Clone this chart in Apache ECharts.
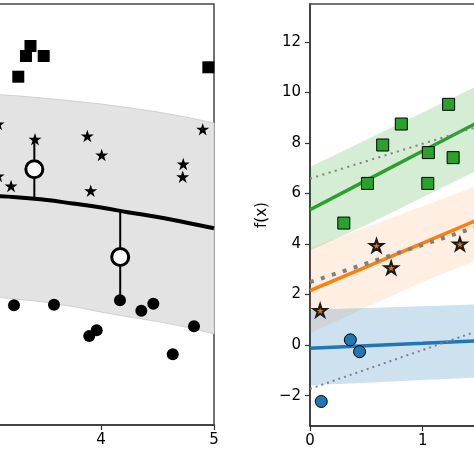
<!DOCTYPE html>
<html>
<head>
<meta charset="utf-8">
<script src="https://cdn.jsdelivr.net/npm/echarts@6/dist/echarts.min.js"></script>
<style>
html,body{margin:0;padding:0;background:#fff;}
#c{width:474px;height:474px;}
</style>
</head>
<body>
<div id="c"></div>
<script>
// ---------- Left panel (y in arbitrary units) ----------
const leftX = [3.0, 3.25, 3.5, 3.75, 4.0, 4.25, 4.5, 4.75, 5.0];
const leftCurve = [229, 227.8, 225.2, 221.5, 217.5, 212.5, 208, 202.5, 196.7];
const leftBandUpper = [331, 329.2, 326.8, 324, 321, 317.2, 313, 308, 302];
const leftBandLower = [128.5, 126, 123, 118.5, 113, 108, 103.5, 98, 91.3];
const leftSquaresX = [3.376, 3.336, 3.493, 3.268, 4.95];
const leftSquaresY = [379, 369, 369, 348.3, 357.7];
const leftStarsX = [3.09, 3.09, 3.416, 3.879, 4.006, 4.90, 4.728, 4.723, 3.204, 3.909];
const leftStarsY = [301, 249, 285.7, 289, 270, 295.7, 261, 248.3, 239, 234.3];
const leftDotsX = [3.23, 3.584, 4.168, 4.357, 4.463, 3.896, 3.962, 4.823, 4.635];
const leftDotsY = [119.7, 120.3, 124.7, 114.3, 121.3, 89, 94.7, 98.7, 70.7];
const leftOpenX = [3.41, 4.17];
const leftOpenY = [255.7, 168];
const leftStemTop = [285.7, 214];
const leftStemBottom = [226.7, 124.7];
const leftTicks = [3, 4, 5];

// ---------- Right panel ----------
const rightX = [0, 0.5, 1.0, 1.5];
const greenMean = [5.36, 6.52, 7.68, 8.84];
const greenUpper = [7.05, 8.13, 9.21, 10.29];
const greenLower = [3.75, 4.75, 5.85, 6.95];
const greenDotted = [6.59, 7.28, 7.97, 8.66];
const orangeMean = [2.16, 3.10, 4.04, 4.98];
const orangeUpper = [3.84, 4.67, 5.50, 6.33];
const orangeLower = [0.47, 1.50, 2.50, 3.40];
const orangeDotted = [2.49, 3.23, 3.97, 4.71];
const blueMean = [-0.12, -0.02, 0.07, 0.17];
const blueUpper = [1.40, 1.47, 1.54, 1.62];
const blueLower = [-1.59, -1.49, -1.38, -1.28];
const blueDotted = [-1.73, -0.96, -0.19, 0.58];
const greenPtsX = [0.30, 0.51, 0.645, 0.81, 1.05, 1.045, 1.23, 1.27];
const greenPtsY = [4.83, 6.40, 7.92, 8.75, 7.62, 6.40, 9.53, 7.42];
const orangePtsX = [0.09, 0.59, 0.72, 1.33];
const orangePtsY = [1.37, 3.94, 3.06, 4.00];
const bluePtsX = [0.10, 0.358, 0.44];
const bluePtsY = [-2.23, 0.21, -0.26];
const rightYTicks = [-2, 0, 2, 4, 6, 8, 10, 12];
const rightXTicks = [0, 1, 2];

const FONT = 'DejaVu Sans';
const STAR = 'path://M100 0 L122.45 69.1 L195.1 69.1 L136.3 111.8 L158.8 180.9 L100 138.2 L41.2 180.9 L63.7 111.8 L4.9 69.1 L77.55 69.1 Z';

function zip(a, b) { return a.map((v, i) => [v, b[i]]); }

function band(ax, xs, lo, hi, fill, stroke, z) {
  return {
    type: 'custom', xAxisIndex: ax, yAxisIndex: ax, silent: true, z: z,
    data: xs.map((x, i) => [x, lo[i], hi[i]]),
    encode: { x: 0, y: [1, 2] },
    renderItem: function (params, api) {
      if (params.dataIndex !== 0) return null;
      const pts = [];
      for (let i = 0; i < xs.length; i++) pts.push(api.coord([xs[i], hi[i]]));
      for (let i = xs.length - 1; i >= 0; i--) pts.push(api.coord([xs[i], lo[i]]));
      return { type: 'polygon', shape: { points: pts },
        style: { fill: fill, stroke: stroke || null, lineWidth: stroke ? 1 : 0 } };
    }
  };
}
function line(ax, xs, ys, color, width, type, z, smooth) {
  return { type: 'line', xAxisIndex: ax, yAxisIndex: ax, data: zip(xs, ys),
    showSymbol: false, symbol: 'none', smooth: !!smooth, silent: true, z: z,
    lineStyle: { color: color, width: width, type: type || 'solid', cap: 'butt' } };
}
function scatter(ax, xs, ys, symbol, size, fill, border, bw, z) {
  return { type: 'scatter', xAxisIndex: ax, yAxisIndex: ax, data: zip(xs, ys),
    symbol: symbol, symbolSize: size, symbolKeepAspect: true, silent: true, z: z,
    itemStyle: { color: fill, borderColor: border, borderWidth: bw, opacity: 1 } };
}

const axisCommon = {
  axisLine: { show: true, onZero: false, lineStyle: { color: '#333', width: 1.5 } },
  axisTick: { show: true, inside: false, length: 5, lineStyle: { color: '#333', width: 1.2 } },
  splitLine: { show: false },
};
const minusFmt = v => String(v).replace('-', '\u2212');

const series = [];
// left panel
series.push(band(0, leftX, leftBandLower, leftBandUpper, '#e3e3e3', '#d0d0d0', 1));
series.push(line(0, leftX, leftCurve, '#000', 4, 'solid', 3, true));
for (let i = 0; i < leftOpenX.length; i++) {
  series.push(line(0, [leftOpenX[i], leftOpenX[i]], [leftStemTop[i], leftStemBottom[i]], '#000', 2, 'solid', 4));
}
series.push(scatter(0, leftSquaresX, leftSquaresY, 'rect', 12, '#000', '#000', 0, 5));
series.push(scatter(0, leftStarsX, leftStarsY, STAR, 13, '#000', '#000', 0, 5));
series.push(scatter(0, leftDotsX, leftDotsY, 'circle', 12, '#000', '#000', 0, 5));
series.push(scatter(0, leftOpenX, leftOpenY, 'circle', 17, '#fff', '#000', 3, 6));
// right panel
series.push(band(1, rightX, greenLower, greenUpper, 'rgba(44,160,44,0.2)', null, 1));
series.push(band(1, rightX, orangeLower, orangeUpper, 'rgba(255,127,14,0.12)', null, 1));
series.push(band(1, rightX, blueLower, blueUpper, 'rgba(31,119,180,0.22)', null, 1));
series.push(line(1, rightX, greenMean, '#2ca02c', 3.5, 'solid', 3));
series.push(line(1, rightX, orangeMean, '#ff7f0e', 3.5, 'solid', 3));
series.push(line(1, rightX, blueMean, '#1f77b4', 3.5, 'solid', 3));
series.push(line(1, rightX, greenDotted, '#808080', 2, [2, 4.5], 4));
series.push(line(1, rightX, orangeDotted, '#808080', 4, [4, 7.5], 4));
series.push(line(1, rightX, blueDotted, '#808080', 2, [2, 4], 4));
series.push(scatter(1, greenPtsX, greenPtsY, 'rect', 12, '#2ca02c', '#000', 1, 5));
series.push(scatter(1, orangePtsX, orangePtsY, STAR, 13, '#d9731a', '#1a1a1a', 2, 5));
series.push(scatter(1, bluePtsX, bluePtsY, 'circle', 12, '#1f77b4', '#000', 1, 5));

const option = {
  animation: false,
  backgroundColor: '#fff',
  textStyle: { fontFamily: FONT },
  grid: [
    { left: -12, right: 260, top: 4, bottom: 49, show: true, borderColor: '#444', borderWidth: 1.5, backgroundColor: 'transparent', containLabel: false, outerBoundsMode: 'none' },
    { left: 310, right: -61.4, top: 4, bottom: 48, show: true, borderColor: '#444', borderWidth: 1.5, backgroundColor: 'transparent', containLabel: false, outerBoundsMode: 'none' }
  ],
  xAxis: [
    Object.assign({}, axisCommon, { gridIndex: 0, type: 'value', min: 3, max: 5, interval: 1,
      axisLabel: { customValues: leftTicks, color: '#000', fontSize: 15, fontFamily: FONT, margin: 8 },
      axisTick: Object.assign({}, axisCommon.axisTick, { customValues: leftTicks }) }),
    Object.assign({}, axisCommon, { gridIndex: 1, type: 'value', min: 0, max: 2, interval: 1,
      axisLabel: { customValues: rightXTicks, color: '#000', fontSize: 15, fontFamily: FONT, margin: 8 },
      axisTick: Object.assign({}, axisCommon.axisTick, { customValues: rightXTicks }) })
  ],
  yAxis: [
    { gridIndex: 0, type: 'value', min: 0, max: 421, show: true,
      axisLine: { show: false }, axisTick: { show: false }, axisLabel: { show: false }, splitLine: { show: false } },
    Object.assign({}, axisCommon, { gridIndex: 1, type: 'value', min: -3.2, max: 13.5,
      name: 'f(x)', nameLocation: 'middle', nameGap: 40, nameRotate: 90,
      nameTextStyle: { color: '#000', fontSize: 15, fontFamily: FONT },
      axisLabel: { customValues: rightYTicks, formatter: minusFmt, color: '#000', fontSize: 15, fontFamily: FONT, margin: 9 },
      axisTick: Object.assign({}, axisCommon.axisTick, { customValues: rightYTicks }) })
  ],
  series: series
};

const chart = echarts.init(document.getElementById('c'), null, { renderer: 'canvas' });
chart.setOption(option);
</script>
</body>
</html>
